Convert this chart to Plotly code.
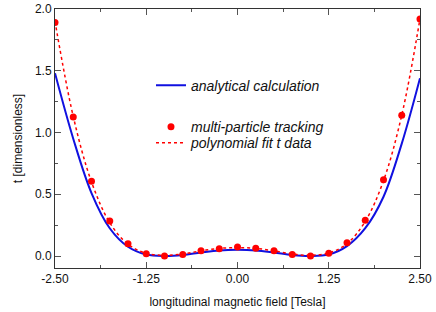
import plotly.graph_objects as go

# Data
x_pts = [-2.5, -2.25, -2.0, -1.75, -1.5, -1.25, -1.0, -0.75, -0.5, -0.25, 0.0,
         0.25, 0.5, 0.75, 1.0, 1.25, 1.5, 1.75, 2.0, 2.25, 2.5]
tracking = [1.89, 1.125, 0.606, 0.284, 0.10, 0.019, 0.0, 0.013, 0.043, 0.059, 0.073,
            0.062, 0.043, 0.013, 0.0, 0.022, 0.108, 0.29, 0.617, 1.14, 1.92]
poly_fit = [1.90, 1.13, 0.60, 0.27, 0.095, 0.022, 0.006, 0.016, 0.042, 0.062, 0.068,
            0.062, 0.042, 0.016, 0.006, 0.024, 0.10, 0.28, 0.61, 1.14, 1.92]
analytical = [1.48, 0.95, 0.51, 0.225, 0.075, 0.012, 0.0, 0.008, 0.028, 0.045, 0.05,
              0.045, 0.028, 0.008, 0.0, 0.012, 0.08, 0.225, 0.48, 0.91, 1.44]

x_ticks = [-2.5, -1.25, 0.0, 1.25, 2.5]
x_tick_labels = ["-2.50", "-1.25", "0.00", "1.25", "2.50"]
y_ticks = [0.0, 0.5, 1.0, 1.5, 2.0]
y_tick_labels = ["0.0", "0.5", "1.0", "1.5", "2.0"]

FONT = "Liberation Sans, Arial, sans-serif"

fig = go.Figure()
fig.add_trace(go.Scatter(x=x_pts, y=analytical, mode="lines", name="analytical calculation",
                         line=dict(color="#1010e0", width=2, shape="spline", smoothing=1.0),
                         legend="legend"))
fig.add_trace(go.Scatter(x=x_pts, y=tracking, mode="markers", name="multi-particle tracking",
                         marker=dict(color="#ff0000", size=7, line=dict(width=0)),
                         legend="legend2"))
fig.add_trace(go.Scatter(x=x_pts, y=poly_fit, mode="lines", name="polynomial fit t data",
                         line=dict(color="#ff0000", width=1.5, dash="dot", shape="spline", smoothing=1.0),
                         legend="legend3"))

axis_common = dict(showline=True, linecolor="#333", linewidth=1, mirror="ticks",
                   ticks="inside", ticklen=6, tickcolor="#555", showgrid=False, zeroline=False,
                   ticklabeloverflow="allow", automargin=False,
                   tickfont=dict(family=FONT, size=12, color="#111"))

fig.update_xaxes(range=[-2.5, 2.5], tickvals=x_ticks, ticktext=x_tick_labels,
                 title=dict(text="longitudinal magnetic field [Tesla]", font=dict(family=FONT, size=12, color="#111"), standoff=12),
                 minor=dict(ticks="inside", ticklen=3, tickcolor="#555", dtick=0.625, tick0=-2.5),
                 **axis_common)
fig.update_yaxes(range=[-0.097, 2.0], tickvals=y_ticks, ticktext=y_tick_labels,
                 title=dict(text="t [dimensionless]", font=dict(family=FONT, size=12, color="#111"), standoff=9),
                 minor=dict(ticks="inside", ticklen=3, tickcolor="#555", dtick=0.25, tick0=0),
                 **axis_common)

leg_common = dict(xanchor="left", yanchor="middle", bgcolor="rgba(0,0,0,0)",
                  font=dict(family=FONT, size=14, color="#111", style="italic"),
                  itemwidth=30)
fig.update_layout(
    width=436, height=312,
    margin=dict(l=55, r=16, t=9, b=44),
    paper_bgcolor="white", plot_bgcolor="white",
    showlegend=True,
    legend=dict(x=0.263, y=0.704, **leg_common),
    legend2=dict(x=0.263, y=0.544, **leg_common),
    legend3=dict(x=0.263, y=0.482, **leg_common),
)

fig.write_html("out.html", config={"displayModeBar": False},
               post_script="document.body.style.margin='0';document.body.style.padding='0';")
